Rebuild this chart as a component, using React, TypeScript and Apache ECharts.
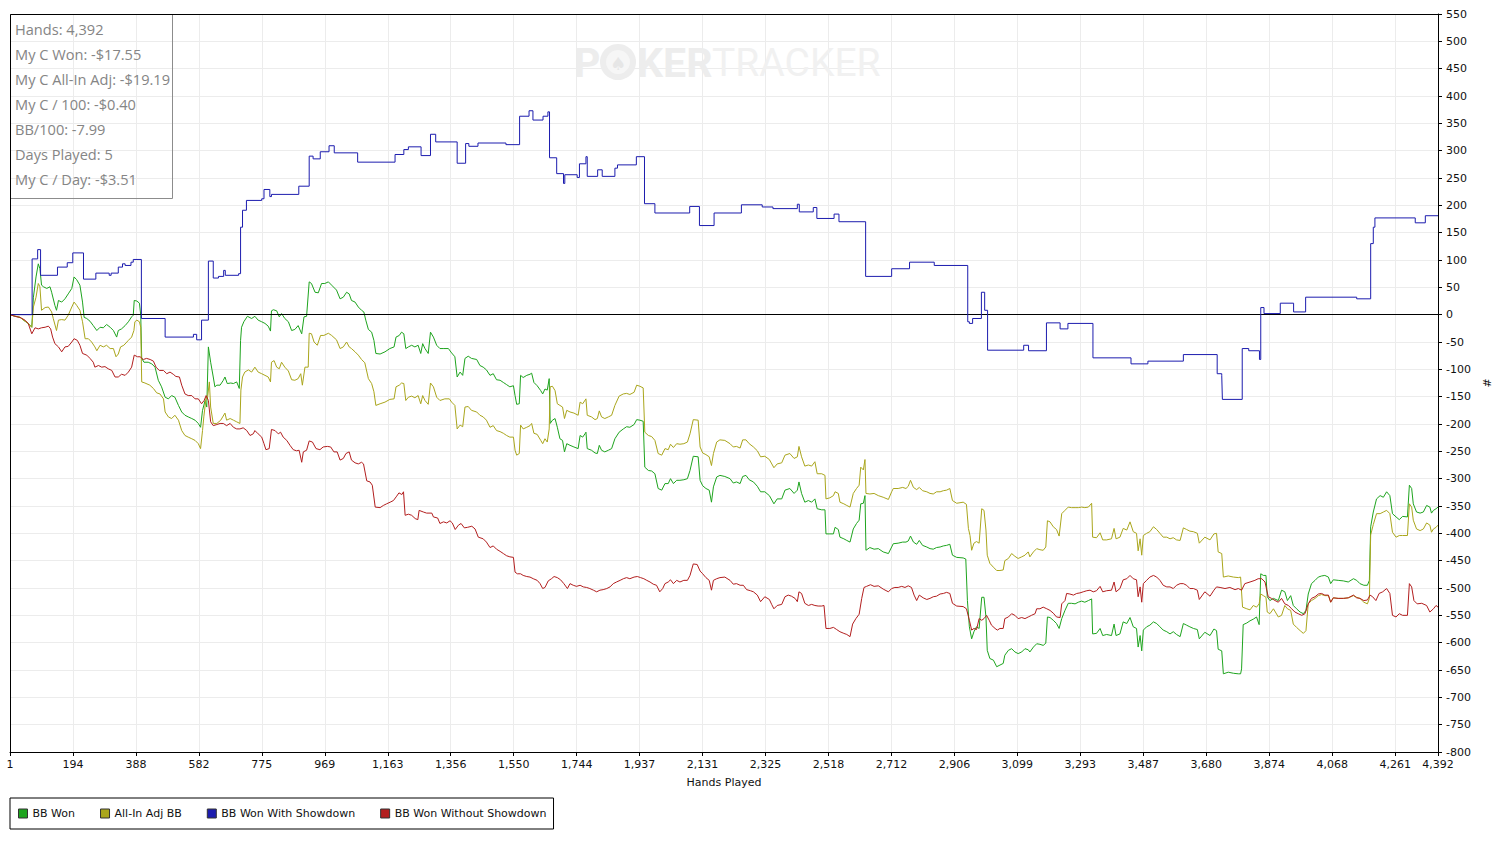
import React, { useEffect, useRef } from "react";
import * as echarts from "echarts";

// ---------- data ----------
const HAND_MAX = 4392;
const TICK_STEP = 193.6;
const TICK_LABELS = ["1","194","388","582","775","969","1,163","1,356","1,550","1,744","1,937","2,131","2,325","2,518","2,712","2,906","3,099","3,293","3,487","3,680","3,874","4,068","4,261","4,392"];

const SERIES_NAMES = ["BB Won", "All-In Adj BB", "BB Won With Showdown", "BB Won Without Showdown"];
const SERIES_COLORS = ["#1ea41e", "#aaa61c", "#1c1cae", "#b21e1e"];

const STATS = ["Hands: 4,392", "My C Won: -$17.55", "My C All-In Adj: -$19.19", "My C / 100: -$0.40", "BB/100: -7.99", "Days Played: 5", "My C / Day: -$3.51"];

// [hand, BB]
const BB_WON = [
[1,0],[16,-3],[32,-5],[47,-12],[57,-16],[68,-23],[73,32],[81,69],[88,93],[93,84],[98,54],[104,51],[114,48],[124,51],[129,41],[139,17],[144,8],[150,26],[160,23],[170,29],[180,38],[191,48],[198,69],[206,64],[216,54],[224,23],[229,-5],[237,-7],[247,-12],[257,-20],[268,-29],[278,-23],[288,-24],[298,-18],[309,-23],[319,-29],[329,-41],[334,-29],[344,-26],[355,-20],[365,-13],[375,-4],[380,-1],[383,26],[391,25],[399,21],[403,-1],[406,-80],[413,-87],[426,-87],[437,-90],[447,-96],[457,-120],[467,-132],[478,-151],[488,-154],[498,-148],[508,-151],[519,-166],[529,-178],[539,-184],[549,-187],[560,-190],[570,-193],[580,-199],[587,-206],[593,-175],[601,-157],[606,-169],[611,-59],[618,-87],[626,-114],[631,-132],[637,-129],[647,-129],[657,-120],[662,-114],[669,-126],[680,-125],[688,-126],[698,-123],[706,-135],[710,-47],
[713,-23],[720,-13],[731,-3],[744,-7],[754,-3],[764,-10],[775,-13],[785,-16],[795,-21],[802,-30],[805,7],[811,9],[821,7],[829,-4],[836,2],[846,-7],[857,-13],[867,-29],[877,-27],[887,-20],[898,-35],[905,-4],[913,-3],[921,60],[928,57],[939,41],[949,40],[959,57],[969,57],[980,60],[990,54],[1005,45],[1016,29],[1026,32],[1036,41],[1044,38],[1051,26],[1062,23],[1072,14],[1082,8],[1089,5],[1095,-10],[1103,-27],[1113,-32],[1120,-47],[1126,-71],[1139,-72],[1154,-68],[1169,-62],[1182,-59],[1188,-41],[1198,-38],[1205,-32],[1212,-35],[1218,-62],[1226,-59],[1236,-56],[1246,-59],[1256,-56],[1264,-71],[1270,-53],[1277,-62],[1287,-71],[1294,-32],[1303,-41],[1313,-56],[1323,-62],[1333,-62],[1349,-62],[1359,-70],[1369,-77],[1376,-114],[1385,-105],[1393,-111],[1400,-80],[1410,-76],[1420,-80],[1436,-82],
[1446,-93],[1456,-96],[1466,-101],[1477,-111],[1487,-108],[1497,-119],[1508,-120],[1518,-124],[1528,-128],[1538,-132],[1549,-130],[1554,-148],[1559,-164],[1567,-163],[1571,-111],[1579,-115],[1590,-111],[1600,-109],[1605,-107],[1612,-124],[1622,-130],[1633,-139],[1639,-145],[1646,-136],[1653,-138],[1659,-117],[1662,-199],[1669,-193],[1677,-190],[1684,-206],[1692,-227],[1700,-230],[1706,-251],[1713,-236],[1723,-239],[1735,-242],[1748,-245],[1754,-221],[1762,-224],[1769,-218],[1772,-215],[1776,-245],[1789,-248],[1800,-253],[1807,-254],[1813,-239],[1820,-248],[1830,-251],[1841,-248],[1851,-245],[1861,-227],[1874,-215],[1887,-209],[1897,-205],[1907,-206],[1920,-201],[1928,-192],[1938,-193],[1948,-195],[1953,-279],[1964,-285],[1974,-286],[1984,-291],[1994,-318],[2005,-321],[2015,-309],[2025,-309],[2032,-300],[2041,-309],[2051,-303],[2061,-303],[2073,-302],[2084,-300],[2092,-285],[2102,-259],[2117,-260],[2123,-303],[2131,-313],[2141,-318],[2151,-321],[2158,-343],[2164,-315],[2174,-297],
[2184,-294],[2199,-296],[2215,-300],[2225,-308],[2235,-306],[2246,-309],[2254,-296],[2264,-294],[2274,-302],[2287,-306],[2299,-314],[2309,-324],[2322,-324],[2336,-331],[2350,-346],[2360,-337],[2374,-337],[2384,-321],[2399,-318],[2412,-327],[2422,-321],[2427,-306],[2435,-327],[2445,-343],[2456,-340],[2466,-343],[2476,-337],[2483,-355],[2497,-357],[2507,-357],[2510,-401],[2522,-401],[2533,-401],[2538,-389],[2548,-393],[2553,-407],[2565,-410],[2574,-413],[2584,-416],[2594,-392],[2604,-382],[2612,-376],[2617,-346],[2625,-345],[2630,-331],[2633,-431],[2645,-426],[2658,-429],[2671,-428],[2686,-434],[2702,-437],[2712,-425],[2717,-419],[2732,-418],[2746,-416],[2756,-416],[2763,-414],[2770,-405],[2779,-416],[2789,-420],[2797,-413],[2807,-422],[2820,-425],[2830,-428],[2840,-429],[2850,-426],[2861,-425],[2871,-423],[2881,-422],[2891,-420],[2899,-440],[2912,-444],
[2932,-445],[2940,-447],[2945,-523],[2951,-571],[2958,-593],[2965,-580],[2973,-571],[2981,-574],[2989,-517],[2996,-517],[3002,-553],[3006,-614],[3014,-629],[3025,-632],[3035,-644],[3045,-641],[3055,-638],[3060,-623],[3071,-614],[3081,-611],[3091,-617],[3101,-620],[3112,-617],[3122,-611],[3132,-613],[3137,-617],[3148,-608],[3158,-602],[3168,-603],[3178,-605],[3186,-601],[3191,-553],[3199,-554],[3209,-559],[3219,-565],[3227,-574],[3235,-556],[3245,-541],[3255,-528],[3265,-528],[3276,-529],[3286,-526],[3296,-524],[3306,-526],[3317,-523],[3327,-520],[3330,-584],[3342,-583],[3353,-574],[3361,-587],[3373,-585],[3388,-587],[3396,-566],[3402,-587],[3414,-584],[3424,-562],[3435,-565],[3445,-554],[3455,-571],[3465,-574],[3470,-608],[3476,-587],[3481,-615],[3486,-577],[3496,-571],[3506,-568],[3517,-562],[3527,-565],[3537,-571],[3547,-577],[3558,-580],[3568,-584],[3578,-580],[3588,-585],[3599,-589],[3609,-565],[3619,-568],[3629,-571],[3640,-574],[3652,-576],[3658,-593],
[3675,-581],[3691,-587],[3703,-575],[3711,-578],[3716,-612],[3727,-615],[3732,-657],[3747,-654],[3763,-656],[3778,-657],[3785,-657],[3788,-648],[3793,-567],[3804,-564],[3814,-560],[3824,-557],[3834,-553],[3842,-567],[3847,-474],[3855,-477],[3863,-477],[3867,-516],[3875,-523],[3886,-519],[3901,-523],[3911,-504],[3921,-507],[3929,-523],[3939,-514],[3947,-532],[3957,-538],[3968,-544],[3978,-547],[3986,-541],[3993,-511],[4003,-492],[4014,-486],[4024,-480],[4034,-478],[4044,-477],[4055,-480],[4062,-492],[4070,-485],[4085,-486],[4101,-487],[4116,-489],[4132,-483],[4142,-486],[4152,-492],[4164,-495],[4175,-495],[4181,-486],[4185,-388],[4193,-361],[4203,-337],[4214,-331],[4224,-334],[4234,-324],[4244,-331],[4252,-364],[4263,-370],[4273,-375],[4283,-369],[4298,-370],[4304,-312],[4311,-318],[4316,-346],[4326,-361],[4337,-363],[4347,-361],[4357,-349],[4367,-352],[4372,-363],[4378,-358],[4386,-355],[4392,-352]
];

const ALL_IN_ADJ = [
[1,0],[32,-5],[57,-16],[68,-23],[73,14],[81,32],[88,57],[93,51],[98,8],[109,13],[119,14],[129,5],[134,-7],[144,-29],[150,-10],[160,-9],[170,-10],[180,-1],[191,14],[198,23],[206,17],[216,8],[224,-13],[232,-44],[242,-44],[252,-50],[262,-59],[268,-66],[278,-56],[288,-59],[298,-56],[309,-62],[319,-62],[327,-77],[334,-72],[341,-59],[351,-56],[365,-47],[375,-41],[382,-29],[385,-13],[391,-10],[399,-13],[403,-23],[406,-123],[416,-125],[431,-129],[442,-135],[452,-143],[462,-145],[473,-154],[478,-178],[488,-187],[498,-190],[508,-184],[519,-193],[529,-212],[539,-221],[549,-224],[560,-227],[570,-230],[580,-236],[587,-245],[593,-212],[597,-187],[604,-151],[608,-154],[614,-123],[618,-169],[626,-199],[637,-199],[649,-193],[662,-180],[667,-193],[678,-190],[688,-193],[698,-196],[708,-199],
[711,-138],[716,-114],[723,-105],[734,-101],[744,-105],[754,-96],[764,-105],[775,-108],[785,-111],[795,-114],[802,-123],[805,-87],[813,-84],[821,-96],[829,-99],[836,-87],[846,-96],[857,-103],[867,-119],[877,-120],[887,-117],[895,-108],[900,-129],[908,-96],[918,-96],[921,-34],[928,-35],[936,-50],[946,-56],[956,-38],[966,-38],[980,-34],[990,-38],[1005,-46],[1016,-62],[1026,-59],[1036,-50],[1044,-59],[1051,-62],[1062,-68],[1072,-74],[1082,-82],[1092,-88],[1103,-117],[1113,-126],[1120,-141],[1126,-166],[1139,-163],[1154,-160],[1169,-155],[1182,-154],[1188,-132],[1198,-129],[1205,-125],[1212,-126],[1218,-157],[1226,-151],[1236,-149],[1246,-152],[1256,-148],[1264,-163],[1270,-148],[1277,-157],[1287,-164],[1294,-125],[1303,-132],[1313,-151],[1323,-157],[1338,-154],[1352,-154],[1359,-160],[1369,-166],[1376,-209],[1385,-202],[1393,-205],[1400,-169],[1410,-168],[1420,-175],[1436,-178],
[1446,-184],[1456,-187],[1466,-193],[1477,-206],[1487,-203],[1497,-212],[1508,-214],[1518,-217],[1528,-221],[1538,-224],[1549,-224],[1554,-248],[1559,-257],[1567,-254],[1571,-202],[1579,-209],[1590,-206],[1600,-203],[1605,-199],[1612,-217],[1622,-219],[1633,-230],[1639,-236],[1646,-227],[1653,-233],[1659,-209],[1662,-132],[1669,-131],[1677,-139],[1684,-163],[1692,-166],[1700,-169],[1706,-190],[1713,-175],[1723,-178],[1735,-180],[1748,-184],[1754,-160],[1762,-163],[1772,-154],[1776,-184],[1789,-187],[1800,-192],[1807,-190],[1813,-176],[1820,-187],[1830,-190],[1841,-187],[1851,-184],[1861,-166],[1874,-149],[1887,-145],[1897,-144],[1907,-146],[1920,-142],[1928,-129],[1938,-131],[1948,-134],[1953,-215],[1964,-221],[1974,-223],[1984,-230],[1994,-254],[2005,-257],[2015,-245],[2025,-247],[2032,-237],[2041,-243],[2051,-236],[2061,-237],[2073,-236],[2084,-233],[2092,-218],[2102,-192],[2117,-193],[2123,-242],[2131,-253],[2141,-256],[2151,-260],[2158,-276],[2164,-254],[2174,-233],
[2184,-229],[2199,-230],[2215,-236],[2225,-242],[2235,-241],[2246,-244],[2254,-229],[2264,-229],[2274,-236],[2287,-242],[2299,-249],[2309,-260],[2322,-259],[2336,-265],[2350,-280],[2360,-273],[2374,-271],[2384,-257],[2399,-254],[2412,-263],[2422,-260],[2427,-241],[2435,-260],[2445,-277],[2456,-275],[2466,-277],[2476,-269],[2483,-291],[2497,-291],[2507,-294],[2510,-337],[2522,-335],[2533,-331],[2538,-324],[2548,-327],[2553,-343],[2565,-346],[2574,-349],[2584,-352],[2594,-327],[2604,-318],[2612,-312],[2617,-279],[2625,-284],[2630,-265],[2633,-327],[2645,-328],[2658,-327],[2671,-331],[2686,-334],[2702,-338],[2712,-324],[2717,-318],[2732,-318],[2746,-316],[2756,-318],[2763,-314],[2770,-303],[2779,-316],[2789,-320],[2797,-316],[2807,-322],[2820,-324],[2830,-327],[2840,-328],[2850,-324],[2861,-324],[2871,-322],[2881,-321],[2891,-318],[2899,-340],[2912,-345],
[2932,-343],[2942,-347],[2948,-391],[2953,-404],[2958,-431],[2965,-418],[2973,-415],[2981,-418],[2989,-355],[2996,-358],[3002,-394],[3006,-440],[3014,-455],[3025,-462],[3035,-468],[3045,-468],[3055,-467],[3060,-450],[3071,-446],[3081,-437],[3091,-442],[3101,-446],[3112,-443],[3122,-440],[3132,-434],[3137,-443],[3148,-434],[3158,-428],[3168,-430],[3178,-431],[3186,-425],[3191,-377],[3199,-379],[3209,-388],[3219,-393],[3227,-405],[3235,-364],[3245,-358],[3255,-352],[3265,-353],[3276,-353],[3286,-353],[3296,-352],[3306,-353],[3317,-352],[3327,-345],[3330,-407],[3342,-408],[3353,-399],[3361,-412],[3373,-412],[3388,-410],[3396,-391],[3402,-410],[3414,-407],[3424,-391],[3435,-394],[3445,-379],[3455,-397],[3465,-400],[3470,-432],[3476,-410],[3481,-440],[3486,-404],[3496,-400],[3506,-397],[3517,-388],[3527,-393],[3537,-400],[3547,-407],[3558,-407],[3568,-410],[3578,-408],[3588,-412],[3599,-413],[3609,-390],[3619,-393],[3629,-396],[3640,-397],[3652,-400],[3658,-418],
[3675,-407],[3691,-412],[3703,-401],[3711,-400],[3716,-434],[3727,-437],[3732,-480],[3747,-478],[3763,-480],[3778,-481],[3785,-480],[3791,-535],[3804,-538],[3814,-540],[3824,-532],[3834,-535],[3842,-529],[3847,-511],[3855,-514],[3863,-517],[3867,-544],[3875,-547],[3886,-538],[3901,-553],[3911,-550],[3921,-532],[3929,-538],[3939,-541],[3947,-566],[3957,-572],[3968,-578],[3978,-583],[3986,-578],[3993,-529],[4003,-523],[4014,-519],[4024,-514],[4034,-512],[4044,-514],[4055,-514],[4062,-526],[4070,-518],[4085,-519],[4101,-519],[4116,-518],[4132,-514],[4142,-517],[4152,-519],[4164,-526],[4175,-529],[4181,-519],[4185,-403],[4193,-384],[4203,-364],[4214,-364],[4224,-361],[4234,-358],[4244,-364],[4252,-398],[4263,-407],[4273,-404],[4283,-404],[4298,-404],[4304,-346],[4311,-352],[4316,-376],[4326,-392],[4337,-395],[4347,-392],[4357,-381],[4367,-385],[4372,-398],[4378,-392],[4386,-389],[4392,-385]
];

// step levels: [first hand of level, BB]
const WITH_SHOWDOWN = [
[1,0],[69,102],[86,119],[95,72],[147,87],[177,95],[194,113],[227,65],[265,76],[306,72],[312,76],[334,87],[347,93],[355,90],[373,96],[380,101],[405,-7],[478,-41],[565,-36],[575,-46],[590,-10],[611,98],[626,67],[642,70],[658,81],[663,72],[704,75],[710,160],[716,191],[728,209],[775,212],[782,229],[800,216],[805,220],[889,235],[921,290],[933,285],[955,298],[982,309],[998,296],[1070,279],[1185,293],[1212,302],[1226,307],[1265,291],[1294,330],[1310,316],[1376,277],[1402,313],[1412,308],[1440,314],[1526,311],[1568,363],[1597,373],[1609,356],[1640,363],[1655,371],[1660,287],[1682,258],[1703,240],[1707,256],[1745,251],[1752,276],[1772,289],[1776,253],[1808,265],[1822,253],[1861,268],[1869,274],[1927,289],[1952,203],[1984,186],[2091,198],[2121,163],[2166,186],[2250,201],[2314,197],[2347,194],[2422,202],[2428,188],[2471,196],[2482,176],[2535,184],[2550,170],[2632,70],[2712,84],[2767,96],[2843,90],[2946,-13],[2951,-16],[2961,-7],[2988,41],[2998,8],[3007,-65],[3118,-56],[3133,-66],[3188,-15],[3230,-26],[3254,-16],[3331,-79],[3448,-90],[3500,-85],[3609,-73],[3713,-108],[3727,-111],[3729,-155],[3790,-62],[3810,-66],[3843,-82],[3847,13],[3857,2],[3907,21],[3948,5],[3985,32],[4142,29],[4185,130],[4193,160],[4198,177],[4322,168],[4353,181],[4392,181]
];

const WITHOUT_SHOWDOWN = [
[1,0],[16,-3],[32,-5],[47,-10],[57,-16],[68,-35],[78,-24],[88,-26],[98,-24],[109,-23],[119,-21],[126,-26],[132,-41],[139,-53],[150,-59],[160,-68],[170,-59],[180,-58],[191,-50],[198,-44],[208,-47],[216,-56],[224,-71],[237,-74],[247,-80],[257,-87],[262,-96],[273,-93],[283,-96],[293,-95],[303,-99],[314,-102],[324,-114],[334,-114],[344,-109],[355,-111],[365,-105],[375,-96],[383,-74],[393,-77],[401,-77],[411,-82],[421,-80],[432,-82],[442,-85],[450,-96],[460,-102],[473,-102],[483,-108],[493,-105],[503,-109],[511,-113],[522,-114],[529,-129],[539,-145],[549,-148],[560,-148],[570,-154],[580,-154],[590,-163],[598,-157],[604,-148],[611,-157],[618,-196],[626,-203],[637,-201],[647,-199],[657,-199],[667,-203],[678,-199],[688,-206],[698,-209],
[708,-209],[718,-207],[729,-212],[739,-221],[749,-218],[754,-212],[764,-218],[775,-224],[782,-236],[788,-247],[798,-245],[805,-210],[816,-212],[826,-218],[833,-215],[841,-224],[852,-230],[862,-239],[872,-247],[882,-249],[890,-248],[898,-270],[903,-251],[913,-248],[921,-231],[931,-233],[942,-245],[954,-247],[964,-242],[977,-241],[987,-242],[997,-251],[1007,-251],[1016,-266],[1026,-263],[1034,-254],[1044,-251],[1051,-266],[1062,-271],[1072,-273],[1082,-270],
[1088,-273],[1098,-304],[1108,-306],[1115,-312],[1124,-352],[1139,-353],[1149,-349],[1159,-346],[1170,-343],[1180,-340],[1190,-332],[1197,-326],[1206,-329],[1211,-324],[1216,-367],[1226,-365],[1236,-367],[1247,-373],[1255,-375],[1259,-358],[1272,-361],[1282,-363],[1298,-363],[1303,-370],[1316,-372],[1323,-382],[1334,-379],[1344,-381],[1354,-377],[1361,-381],[1370,-393],[1380,-385],[1388,-382],[1398,-390],[1408,-389],[1421,-387],[1431,-392],[1441,-407],
[1456,-410],[1466,-416],[1477,-426],[1487,-423],[1497,-429],[1508,-433],[1518,-437],[1528,-441],[1538,-443],[1549,-444],[1554,-471],[1561,-474],[1571,-474],[1579,-477],[1590,-479],[1600,-480],[1610,-483],[1622,-486],[1631,-492],[1639,-501],[1646,-499],[1656,-487],[1666,-483],[1674,-479],[1684,-481],[1694,-485],[1704,-492],[1715,-501],[1723,-492],[1733,-495],[1743,-497],[1754,-495],[1764,-498],[1774,-499],[1784,-501],[1795,-504],[1805,-507],[1815,-504],[1825,-503],[1836,-501],[1846,-498],[1856,-492],[1866,-489],[1877,-486],[1887,-483],[1897,-481],[1907,-483],[1920,-480],[1930,-479],[1940,-481],[1950,-483],[1959,-486],[1969,-489],[1979,-493],[1989,-495],[1999,-507],[2008,-501],[2015,-492],[2025,-489],[2032,-485],[2041,-492],[2051,-486],[2061,-489],[2073,-486],[2084,-486],[2092,-477],[2102,-456],[2114,-457],[2123,-469],[2131,-474],[2141,-481],[2151,-486],[2158,-504],[2164,-486],[2174,-483],
[2184,-481],[2199,-480],[2215,-486],[2225,-493],[2235,-492],[2246,-495],[2256,-495],[2266,-503],[2278,-505],[2287,-507],[2299,-513],[2309,-525],[2322,-516],[2336,-521],[2343,-530],[2350,-538],[2360,-532],[2374,-530],[2384,-516],[2394,-513],[2404,-515],[2415,-519],[2422,-525],[2427,-507],[2435,-510],[2445,-528],[2456,-532],[2466,-530],[2476,-532],[2486,-533],[2497,-533],[2504,-532],[2510,-574],[2522,-574],[2533,-572],[2543,-576],[2553,-580],[2565,-583],[2574,-585],[2584,-589],[2592,-566],[2602,-556],[2612,-548],[2620,-519],[2627,-499],[2635,-497],[2647,-494],[2658,-497],[2671,-496],[2686,-502],[2702,-507],[2712,-501],[2722,-499],[2732,-499],[2743,-497],[2753,-499],[2763,-496],[2773,-499],[2781,-513],[2789,-523],[2797,-513],[2809,-518],[2820,-521],[2830,-519],[2840,-516],[2850,-515],[2861,-511],[2871,-510],[2881,-508],[2891,-510],[2899,-528],[2912,-533],
[2932,-534],[2942,-538],[2951,-559],[2958,-577],[2965,-574],[2973,-576],[2981,-556],[2989,-559],[2996,-556],[3004,-550],[3012,-559],[3019,-568],[3030,-574],[3037,-577],[3045,-574],[3055,-574],[3060,-556],[3071,-553],[3081,-547],[3091,-550],[3101,-556],[3112,-554],[3122,-556],[3132,-553],[3142,-550],[3153,-547],[3158,-538],[3168,-538],[3178,-535],[3189,-538],[3199,-541],[3209,-546],[3219,-553],[3230,-554],[3235,-529],[3245,-523],[3250,-510],[3260,-511],[3271,-513],[3281,-510],[3291,-509],[3301,-507],[3312,-505],[3322,-504],[3332,-507],[3342,-505],[3353,-497],[3361,-507],[3373,-505],[3388,-504],[3396,-489],[3402,-507],[3414,-501],[3424,-485],[3435,-483],[3445,-477],[3455,-483],[3465,-485],[3470,-516],[3476,-498],[3481,-526],[3486,-492],[3496,-486],[3506,-480],[3517,-477],[3527,-480],[3537,-486],[3547,-495],[3558,-498],[3568,-498],[3578,-501],[3588,-495],[3599,-492],[3609,-492],[3619,-495],[3629,-501],[3640,-501],[3652,-504],[3658,-521],
[3675,-507],[3691,-515],[3703,-504],[3711,-498],[3722,-499],[3737,-501],[3752,-499],[3768,-503],[3778,-501],[3788,-504],[3798,-492],[3814,-489],[3829,-486],[3839,-483],[3850,-483],[3860,-489],[3870,-516],[3880,-519],[3891,-523],[3901,-526],[3911,-519],[3921,-529],[3932,-532],[3942,-538],[3952,-544],[3962,-547],[3973,-550],[3983,-547],[3993,-529],[4003,-519],[4014,-516],[4024,-511],[4034,-510],[4044,-513],[4055,-513],[4062,-526],[4070,-518],[4085,-519],[4101,-519],[4116,-518],[4132,-513],[4142,-518],[4152,-519],[4164,-523],[4175,-522],[4183,-513],[4191,-516],[4201,-523],[4211,-510],[4222,-507],[4234,-501],[4244,-510],[4252,-550],[4263,-553],[4273,-547],[4283,-550],[4298,-550],[4304,-492],[4311,-498],[4318,-523],[4328,-529],[4342,-528],[4357,-532],[4367,-544],[4378,-538],[4386,-532],[4392,-535]
];

const Y_MIN = -800;
const Y_MAX = 550;
const Y_STEP = 50;

// ---------- chart ----------
const AXIS_FONT = "'DejaVu Sans', Verdana, sans-serif";

function toXY(arr: number[][]) {
  return arr.map(([h, v]) => [h - 1, v]);
}

function xLabel(v: number) {
  if (v >= HAND_MAX - 1.5) return TICK_LABELS[TICK_LABELS.length - 1];
  const k = Math.round(v / TICK_STEP);
  return TICK_LABELS[k] ?? "";
}

export default function App() {
  const ref = useRef<HTMLDivElement>(null);

  useEffect(() => {
    if (!ref.current) return;
    const chart = echarts.init(ref.current, undefined, { renderer: "svg" });

    const lineBase = {
      type: "line",
      showSymbol: false,
      symbol: "none",
      silent: true,
      emphasis: { disabled: true },
      animation: false,
    };

    const datasets = [BB_WON, ALL_IN_ADJ, WITH_SHOWDOWN, WITHOUT_SHOWDOWN];

    const series: any[] = datasets.map((d, i) => ({
      ...lineBase,
      name: SERIES_NAMES[i],
      data: toXY(d),
      step: i === 2 ? "end" : undefined,
      color: SERIES_COLORS[i],
      lineStyle: { color: SERIES_COLORS[i], width: 1 },
      z: 3 + i,
    }));

    series[0].markLine = {
      silent: true,
      symbol: "none",
      label: { show: false },
      lineStyle: { color: "#000", width: 1, type: "solid" },
      data: [{ yAxis: 0 }],
      animation: false,
    };

    const frame: any = {
      type: "rect",
      shape: { x: 10.5, y: 14.5, width: 1428, height: 738 },
      style: { fill: "none", stroke: "#000", lineWidth: 1 },
      z: 20,
      silent: true,
    };

    const statGraphics: any[] = [
      {
        type: "rect",
        shape: { x: 10.5, y: 14.5, width: 162, height: 184 },
        style: { fill: "rgba(255,255,255,0)", stroke: "#8c8c8c", lineWidth: 1 },
        z: 10,
        silent: true,
      },
      ...STATS.map((t, i) => ({
        type: "text",
        x: 15,
        y: 29 + i * 25,
        style: {
          text: t,
          fill: "#858585",
          fontSize: 14.6,
          fontFamily: "'Open Sans', 'Noto Sans', sans-serif",
          verticalAlign: "middle",
          align: "left",
        },
        z: 10,
        silent: true,
      })),
    ];

    const watermark: any[] = [
      {
        type: "text",
        x: 574,
        y: 63,
        style: { text: "P", fill: "#ededed", fontSize: 41, fontWeight: "bold", fontFamily: "Roboto, sans-serif", verticalAlign: "middle", align: "left" },
        z: 1, silent: true,
      },
      { type: "circle", shape: { cx: 618, cy: 62, r: 18 }, style: { fill: "#ededed" }, z: 1, silent: true },
      { type: "circle", shape: { cx: 618, cy: 62, r: 12 }, style: { fill: "#f6f6f6" }, z: 1, silent: true },
      {
        type: "text",
        x: 618,
        y: 63,
        style: { text: "♠", fill: "#e6e6e6", fontSize: 18, fontFamily: "'DejaVu Sans', sans-serif", verticalAlign: "middle", align: "center" },
        z: 1, silent: true,
      },
      {
        type: "text",
        x: 637,
        y: 63,
        style: { text: "KER", fill: "#ededed", fontSize: 41, fontWeight: "bold", fontFamily: "Roboto, sans-serif", verticalAlign: "middle", align: "left" },
        z: 1, silent: true,
      },
      {
        type: "text",
        x: 712,
        y: 63,
        style: { text: "TRACKER", fill: "#f1f1f1", fontSize: 39, fontFamily: "Roboto, sans-serif", verticalAlign: "middle", align: "left" },
        z: 1, silent: true,
      },
    ];

    chart.setOption({
      animation: false,
      backgroundColor: "#ffffff",
      grid: {
        left: 10,
        right: 70,
        top: 14,
        bottom: 93,
        show: false,
        containLabel: false,
      },
      legend: {
        left: 10,
        top: 798,
        orient: "horizontal",
        data: SERIES_NAMES,
        icon: "rect",
        itemWidth: 9,
        itemHeight: 9,
        itemGap: 25,
        padding: [10, 7, 10, 8],
        borderColor: "#000",
        borderWidth: 1,
        selectedMode: false,
        itemStyle: { borderColor: "#333", borderWidth: 1 },
        textStyle: { color: "#111", fontSize: 11, fontFamily: AXIS_FONT, padding: [0, 0, 0, 0] },
      },
      xAxis: {
        type: "value",
        min: 0,
        max: HAND_MAX - 1,
        interval: TICK_STEP,
        name: "Hands Played",
        nameLocation: "middle",
        nameGap: 25,
        nameTextStyle: { color: "#111", fontSize: 11, fontFamily: AXIS_FONT },
        axisLine: { show: true, onZero: false, lineStyle: { color: "#000", width: 1 } },
        axisTick: { show: true, length: 4, lineStyle: { color: "#000" } },
        axisLabel: { color: "#111", fontSize: 11, fontFamily: AXIS_FONT, margin: 7, formatter: xLabel },
        splitLine: { show: true, showMinLine: false, showMaxLine: false, lineStyle: { color: "#ececec", width: 1 } },
      },
      yAxis: {
        type: "value",
        position: "right",
        min: Y_MIN,
        max: Y_MAX,
        interval: Y_STEP,
        name: "#",
        nameLocation: "middle",
        nameGap: 44,
        nameRotate: 90,
        nameTextStyle: { color: "#111", fontSize: 11, fontFamily: AXIS_FONT },
        axisLine: { show: true, onZero: false, lineStyle: { color: "#000", width: 1 } },
        axisTick: { show: true, length: 4, lineStyle: { color: "#000" } },
        axisLabel: { color: "#111", fontSize: 11, fontFamily: AXIS_FONT, margin: 8 },
        splitLine: { show: true, showMinLine: false, showMaxLine: false, lineStyle: { color: "#ececec", width: 1 } },
      },
      graphic: [frame, ...watermark, ...statGraphics],
      series,
    });

    return () => chart.dispose();
  }, []);

  return (
    <div
      ref={ref}
      style={{ position: "fixed", left: 0, top: 0, width: 1508, height: 845, background: "#fff" }}
    />
  );
}
